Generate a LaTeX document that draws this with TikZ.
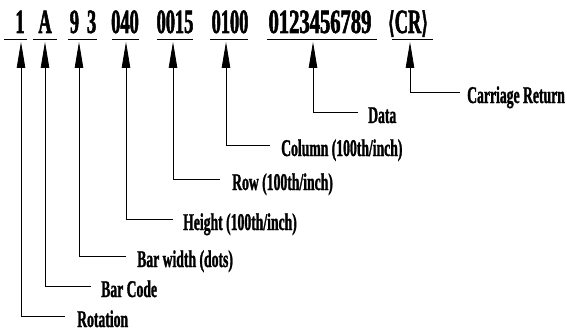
\documentclass[tikz,border=0pt]{standalone}
\usepackage{fontspec}
\usepackage{graphicx}
\setmainfont{Liberation Serif}
\newfontfamily\codefont{Liberation Serif}[FakeStretch=0.54, FakeBold=1.5]
\newfontfamily\labfont{Liberation Serif}[FakeStretch=0.57, FakeBold=1.2]
\newfontfamily\brfont{DejaVu Serif}[FakeStretch=0.5, FakeBold=1.2]
\usetikzlibrary{arrows.meta}
\tikzset{
  field/.style={font=\codefont\bfseries\fontsize{34}{34}\selectfont, anchor=base, inner sep=0pt},
  lab/.style={font=\labfont\bfseries\fontsize{24}{24}\selectfont, anchor=base west, inner sep=0pt},
  uline/.style={line width=0.9pt},
  lead/.style={line width=0.8pt, -{Triangle[length=26pt,width=8.5pt]}},
}
\begin{document}
\begin{tikzpicture}[x=1pt,y=-1pt]
\useasboundingbox (0,0) rectangle (567,334);
% fields
\node[field] (f1) at (20,33) {1};
\node[field] (f2) at (45,33) {A};
\node[field] (f3) at (83,33) {9\hspace{8pt}3};
\node[field] (f4) at (125,33) {040};
\node[field] (f5) at (175,33) {0015};
\node[field] (f6) at (230,33) {0100};
\node[field] (f7) at (320,33) {\scalebox{1.12}[1]{0123456789}};
\node[field] (f8) at (408,33) {{\brfont\bfseries\fontsize{30}{30}\selectfont ⟨}CR{\brfont\bfseries\fontsize{30}{30}\selectfont ⟩}};
% underlines
\draw[uline] (4,39) -- (27,39);
\draw[uline] (33,39) -- (57,39);
\draw[uline] (68,39) -- (97,39);
\draw[uline] (112,39) -- (139,39);
\draw[uline] (157,39) -- (193,39);
\draw[uline] (210,39) -- (248,39);
\draw[uline] (267,39) -- (377,39);
\draw[uline] (392,39) -- (433,39);
% arrow tips
\coordinate (t1) at (21,42);
\coordinate (t2) at (45,42);
\coordinate (t3) at (79,42);
\coordinate (t4) at (126,42);
\coordinate (t5) at (173,42);
\coordinate (t6) at (226,42);
\coordinate (t7) at (313,42);
\coordinate (t8) at (410,42);
% ends of leader lines
\coordinate (e1) at (65,316);
\coordinate (e2) at (91,286);
\coordinate (e3) at (126,256);
\coordinate (e4) at (173,219);
\coordinate (e5) at (220,179);
\coordinate (e6) at (270,145);
\coordinate (e7) at (358,112);
\coordinate (e8) at (460,92);
% labels
\node[lab] (l1) at (77,327) {Rotation};
\node[lab] (l2) at (101,297) {Bar Code};
\node[lab] (l3) at (137,267) {Bar width (dots)};
\node[lab] (l4) at (183,230) {Height (100th/inch)};
\node[lab] (l5) at (232,190) {Row (100th/inch)};
\node[lab] (l6) at (281,156) {Column (100th/inch)};
\node[lab] (l7) at (368,123) {Data};
\node[lab] (l8) at (467,103) {Carriage Return};
% leaders
\foreach \i in {1,...,8} {
  \draw[lead] (e\i) -| (t\i);
}
\end{tikzpicture}
\end{document}
